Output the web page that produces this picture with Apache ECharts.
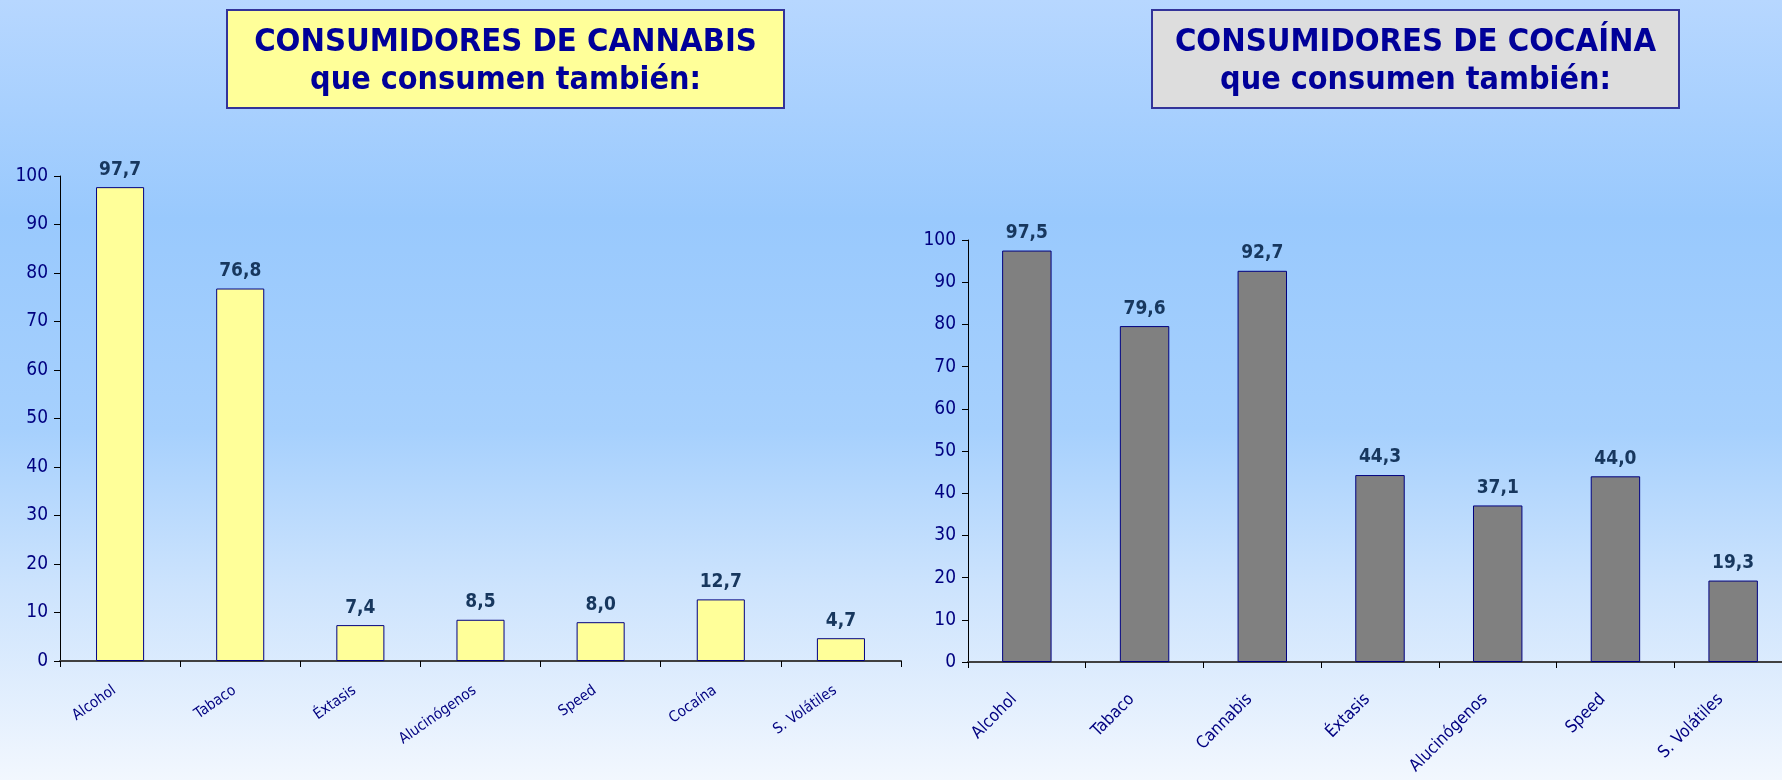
<!DOCTYPE html>
<html>
<head>
<meta charset="utf-8">
<script src="https://cdn.jsdelivr.net/npm/echarts@6/dist/echarts.min.js"></script>
<style>
  html, body { margin: 0; padding: 0; }
  #chart { width: 1782px; height: 780px; }
</style>
</head>
<body>
<div id="chart"></div>
<script>
// datos
const cannabisCats = ['Alcohol', 'Tabaco', 'Éxtasis', 'Alucinógenos', 'Speed', 'Cocaína', 'S. Volátiles']
const cannabisVals = [97.7, 76.8, 7.4, 8.5, 8.0, 12.7, 4.7]
const cocainaCats = ['Alcohol', 'Tabaco', 'Cannabis', 'Éxtasis', 'Alucinógenos', 'Speed', 'S. Volátiles']
const cocainaVals = [97.5, 79.6, 92.7, 44.3, 37.1, 44.0, 19.3]
const yTicks = [0, 10, 20, 30, 40, 50, 60, 70, 80, 90, 100]

const FONT = "'DejaVu Sans Condensed', 'DejaVu Sans', sans-serif"
const NAVY = '#000080'

function fmt(p) {
  return p.value.toFixed(1).replace('.', ',')
}

function yAxis(idx) {
  return {
    type: 'value',
    gridIndex: idx,
    min: yTicks[0],
    max: yTicks[yTicks.length - 1],
    interval: yTicks[1] - yTicks[0],
    axisLine: {show: true, lineStyle: {color: '#000', width: 1}},
    axisTick: {show: true, length: 6, lineStyle: {color: '#000'}},
    axisLabel: {color: NAVY, fontSize: 19, fontFamily: FONT, margin: 12},
    splitLine: {show: false}
  }
}

function xAxis(idx, cats, rotate, size, margin, shift) {
  return {
    type: 'category',
    gridIndex: idx,
    data: cats,
    axisLine: {show: true, onZero: false, lineStyle: {color: '#404040', width: 2}},
    axisTick: {show: true, length: 6, lineStyle: {color: '#000'}},
    axisLabel: {
      interval: 0, rotate: rotate, color: NAVY, fontSize: size, fontFamily: FONT,
      margin: margin, padding: [0, shift, 0, 0]
    }
  }
}

function barSeries(idx, vals, color, width) {
  return {
    type: 'bar',
    xAxisIndex: idx,
    yAxisIndex: idx,
    data: vals,
    barWidth: width,
    itemStyle: {color: color, borderColor: NAVY, borderWidth: 1},
    label: {
      show: true,
      position: 'top',
      distance: 8,
      formatter: fmt,
      color: '#17375e',
      fontSize: 19,
      fontWeight: 'bold',
      fontFamily: FONT
    },
    z: 2
  }
}

function titleBox(x, y, w, h, fill, line1, line2) {
  return {
    type: 'group',
    children: [
      {
        type: 'rect',
        shape: {x: x, y: y, width: w, height: h},
        style: {fill: fill, stroke: '#333399', lineWidth: 2}
      },
      {
        type: 'text',
        style: {
          x: x + w / 2, y: y + 33, text: line1, align: 'center', verticalAlign: 'middle',
          fill: '#000099', font: 'bold 32.5px ' + FONT
        }
      },
      {
        type: 'text',
        style: {
          x: x + w / 2, y: y + 71, text: line2, align: 'center', verticalAlign: 'middle',
          fill: '#000099', font: 'bold 32px ' + FONT
        }
      }
    ]
  }
}

let myChart = echarts.init(document.getElementById('chart'), null, {renderer: 'canvas'})
let option = {
  animation: false,
  backgroundColor: {
    type: 'linear', x: 0, y: 0, x2: 0, y2: 1,
    colorStops: [
      {offset: 0, color: '#b7d7ff'},
      {offset: 0.28, color: '#99c9fd'},
      {offset: 0.55, color: '#a6d0fd'},
      {offset: 0.75, color: '#cce3fd'},
      {offset: 1, color: '#f2f7fe'}
    ]
  },
  grid: [
    {left: 60, top: 176, width: 841, height: 485, outerBoundsMode: 'none'},
    {left: 968, top: 240, width: 824, height: 422, outerBoundsMode: 'none'}
  ],
  xAxis: [
    xAxis(0, cannabisCats, 35, 15, 24, 7),
    xAxis(1, cocainaCats, 45, 17, 22, 18)
  ],
  yAxis: [yAxis(0), yAxis(1)],
  series: [
    barSeries(0, cannabisVals, '#ffff99', '40%'),
    barSeries(1, cocainaVals, '#808080', '42%')
  ],
  graphic: [
    titleBox(227, 10, 557, 98, '#ffff99', 'CONSUMIDORES DE CANNABIS', 'que consumen también:'),
    titleBox(1152, 10, 527, 98, '#dddddd', 'CONSUMIDORES DE COCAÍNA', 'que consumen también:')
  ]
}
myChart.setOption(option)
</script>
</body>
</html>
